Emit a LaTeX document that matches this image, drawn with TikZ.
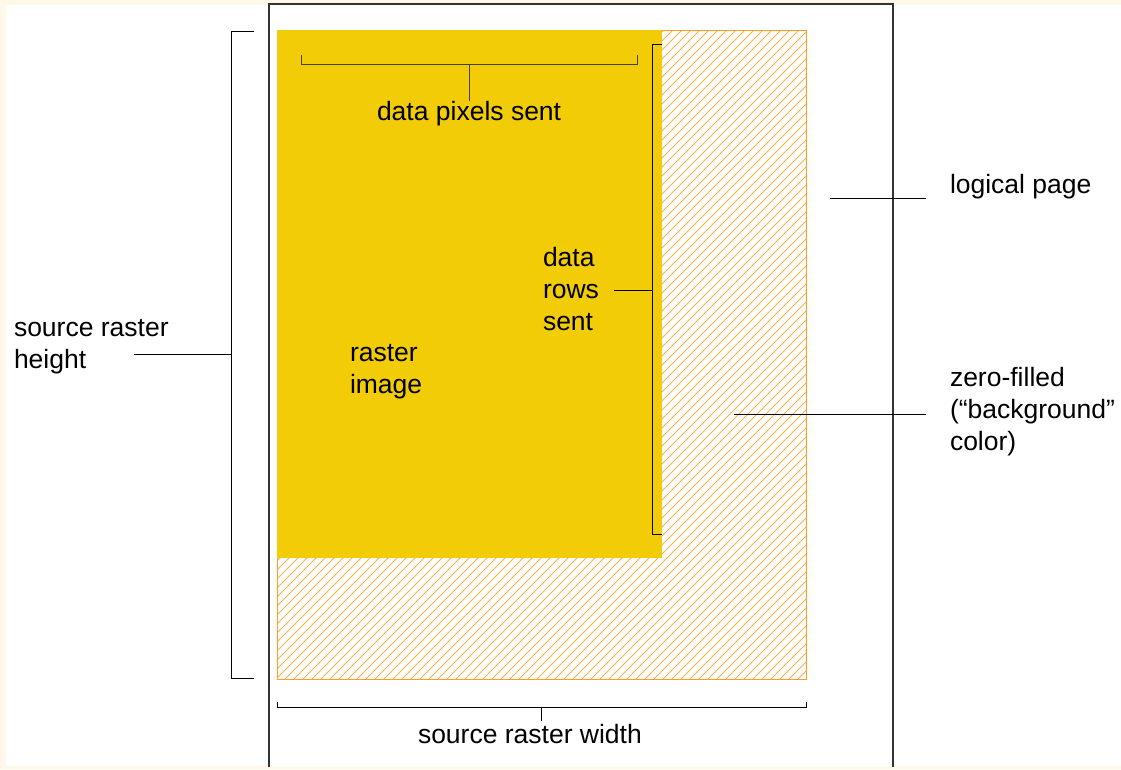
\documentclass[tikz,border=0pt]{standalone}
\usepackage{fontspec}
\setmainfont{Liberation Sans}
\begin{document}
\begin{tikzpicture}[x=1pt,y=-1pt,
  lbl/.style={inner sep=0pt, outer sep=0pt, align=left, anchor=base west, font=\fontsize{26.5}{32}\selectfont},
  ln/.style={line width=1pt, black},
  brk/.style={line width=1pt, black!85!yellow},
  hatchln/.style={line width=1pt, color=hatchc}]
\definecolor{cream}{HTML}{FFF7E8}
\definecolor{rasteryel}{HTML}{F2CC07}
\definecolor{hatchc}{HTML}{FFB04A}
\definecolor{hatchborder}{HTML}{FF9E1F}
\useasboundingbox (0,0) rectangle (1121,769);
% background
\fill[cream] (0,0) rectangle (1121,769);
\fill[white] (6,5) rectangle (1121,766);
% logical page
\fill[white] (269,4) rectangle (893,767);
\draw[line width=1.3pt, black!80] (269,767) -- (269,4) -- (893,4) -- (893,767);
% hatched zero-filled area
\begin{scope}
  \clip (277,30) rectangle (806,679);
  \foreach \k in {-660,-651,...,810} {
    \draw[hatchln] (\k,679) -- (\k+649,30);
  }
\end{scope}
\draw[line width=1pt, hatchborder] (277,30) rectangle (806,679);
% raster image
\fill[rasteryel] (277,30) rectangle (662,558);
% brackets
\draw[brk] (301,55) -- (301,64) -- (637,64) -- (637,55);
\coordinate (topmid) at (469,64);
\draw[ln] (652,44) -- (662,44);
\draw[ln] (662,534) -- (652,534) -- (652,44);
\coordinate (rightmid) at (652,290);
\draw[ln] (254,31) -- (231,31) -- (231,678) -- (254,678);
\coordinate (leftmid) at (231,354);
\draw[ln] (277,702) -- (277,707) -- (806,707) -- (806,702);
\coordinate (botmid) at (541,707);
% labels
\node[lbl] (dps) at (377,120) {data pixels sent};
\node[lbl, anchor=north west] (drs) at (543,247) {data\\rows\\sent};
\node[lbl, anchor=north west] (ri) at (350,344) {raster\\image};
\node[lbl, anchor=north west] (srh) at (14,319) {source raster\\height};
\node[lbl] (srw) at (418,743) {source raster width};
\node[lbl] (lp) at (950,193) {logical page};
\node[lbl, anchor=north west] (zf) at (950,367) {zero-filled\\(“background”\\color)};
\coordinate (lpA) at (830,198);
\coordinate (lpB) at (926,198);
\coordinate (zfA) at (734,414);
\coordinate (zfB) at (926,414);
\coordinate (srhE) at (134,354);
\coordinate (drsE) at (614,290);
\coordinate (dpsE) at (469,101);
\coordinate (srwE) at (541,721);
% connectors
\draw[brk] (topmid) -- (dpsE);
\draw[ln] (drsE) -- (rightmid);
\draw[ln] (srhE) -- (leftmid);
\draw[ln] (botmid) -- (srwE);
\draw[ln] (lpA) -- (lpB);
\draw[ln] (zfA) -- (zfB);
\end{tikzpicture}
\end{document}
